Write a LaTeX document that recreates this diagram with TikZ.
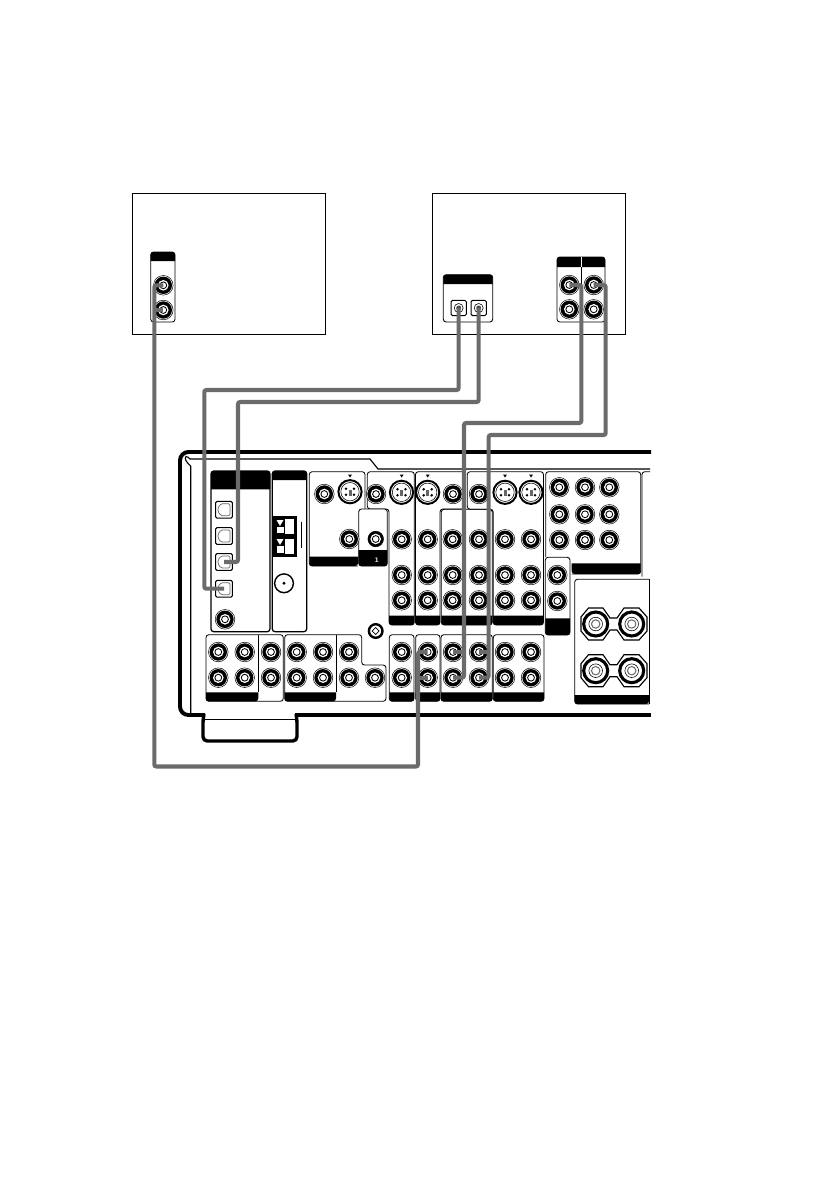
\documentclass[tikz,border=0pt]{standalone}
\usepackage{amsmath}
\begin{document}
\begin{tikzpicture}
[x=0.025cm,y=-0.025cm,
 device/.style={draw,line width=0.8pt},
 panel/.style={draw,line width=0.6pt,rounded corners=2pt},
 bar/.style={fill=black},
 jack/.style={circle,draw,fill=white,line width=0.35pt,inner sep=0pt,minimum size=0.49cm,
   path picture={\fill[black] (path picture bounding box.center) circle[radius=8.7];
                 \fill[white] (path picture bounding box.center) circle[radius=5.3];
                 \draw[line width=0.6pt] (path picture bounding box.center) circle[radius=3.4];}},
 svideo/.style={circle,draw,fill=white,line width=1.4pt,inner sep=0pt,minimum size=0.58cm,
   path picture={\draw[line width=0.4pt] (path picture bounding box.center) circle[radius=9.2];
                 \fill[black] ([shift={(-4,-3)}]path picture bounding box.center) circle[radius=1.4];
                 \fill[black] ([shift={( 4,-3)}]path picture bounding box.center) circle[radius=1.4];
                 \fill[black] ([shift={(-4, 3)}]path picture bounding box.center) circle[radius=1.4];
                 \fill[black] ([shift={( 4, 3)}]path picture bounding box.center) circle[radius=1.4];
                 \fill[black!60] ([shift={(-1.5,-2)}]path picture bounding box.center) rectangle ++(3,6);}},
 optical/.style={rectangle,draw,fill=white,line width=0.7pt,rounded corners=1pt,inner sep=0pt,minimum size=0.42cm,
   path picture={\draw[black!60,line width=0.5pt] ([shift={(-6,-2)}]path picture bounding box.center) -- ++(3,-4) -- ++(9,0) -- ++(0,12) -- ++(-9,0) -- ++(-3,-4) -- cycle;}},
 srcoptical/.style={rectangle,draw,fill=white,line width=0.7pt,rounded corners=1pt,inner sep=0pt,minimum size=0.38cm,
   path picture={\draw[line width=0.4pt] (path picture bounding box.center) circle[radius=4.5];
                 \fill[black!70] (path picture bounding box.center) circle[radius=2.5];}},
 speaker/.style={circle,draw,fill=white,line width=2.2pt,inner sep=0pt,minimum size=0.6cm,
   path picture={\draw[line width=0.4pt] (path picture bounding box.center) circle[radius=6.8];
                 \draw[black!60,line width=0.7pt] (path picture bounding box.center) circle[radius=4.2];}},
 coaxin/.style={circle,draw,fill=white,line width=1pt,inner sep=0pt,minimum size=0.47cm},
 screw/.style={circle,draw,fill=white,line width=1.7pt,inner sep=0pt,minimum size=0.34cm,
   path picture={\draw[line width=0.5pt] ([shift={(-3.5,0)}]path picture bounding box.center) -- ++(3.5,-3.5) -- ++(3.5,3.5) -- ++(-3.5,3.5) -- cycle;}},
 cable/.style={draw=black!58,line width=2.9pt,rounded corners=1.5pt}]
\useasboundingbox (0,0) rectangle (840,1190);
% outside devices
\draw[device] (132.5,193.7) rectangle (325.7,334.3);
\draw[device] (432.3,193.7) rectangle (625.7,334.3);
\draw[panel] (150.7,252) rectangle (175,322);
\fill[bar] (150.7,261) [rounded corners=2pt] -- (150.7,252) -- (175,252) [sharp corners] -- (175,261) -- cycle;
\draw[panel] (443.3,274.7) rectangle (492.7,322);
\fill[bar] (443.3,284) [rounded corners=2pt] -- (443.3,274.7) -- (492.7,274.7) [sharp corners] -- (492.7,284) -- cycle;
\draw[panel] (557,257) rectangle (605,322);
\fill[bar] (557,267) [rounded corners=2pt] -- (557,257) -- (605,257) [sharp corners] -- (605,267) -- cycle;
\draw[line width=0.6pt] (581.3,267) -- (581.3,322);
\draw[white,line width=0.6pt] (581.3,257) -- (581.3,267);
% chassis
\draw[line width=2.8pt,rounded corners=6pt] (651,452) -- (180,452) -- (180,715) -- (205,715);
\draw[line width=2.8pt] (651,715) -- (295,715);
\draw[line width=2.4pt,rounded corners=3pt] (204,714) -- (203,719) -- (203,741) -- (297,741) -- (297,719) -- (296,714);
\draw[line width=0.7pt] (205,719.3) -- (296,719.3);
\draw[line width=0.8pt] (190.7,715) -- (190.7,466) .. controls (186,462) and (184,458) .. (186,456.5)
  .. controls (187,456) and (189,458) .. (190,459) -- (370,459) -- (378,469) -- (650,469);
% upper panels
\draw[panel,line width=0.9pt] (211,471) rectangle (270,631.7);
\fill[bar] (211,489.3) [rounded corners=2pt] -- (211,471) -- (270,471) [sharp corners] -- (270,489.3) -- cycle;
\draw[panel,line width=0.9pt] (272.3,471) rectangle (306.7,631.7);
\fill[bar] (272.3,480) [rounded corners=2pt] -- (272.3,471) -- (306.7,471) [sharp corners] -- (306.7,480) -- cycle;
\draw[panel] (358,566) -- (309.3,566) -- (309.3,471.7) -- (365,471.7) -- (365,509);
\fill[bar] (309.3,556.7) [rounded corners=2pt] -- (309.3,566) -- (358,566) [sharp corners] -- (358,556.7) -- cycle;
\draw[panel] (389,625) -- (389,509) -- (367.3,509) -- (367.3,471.7) -- (414.3,471.7) -- (414.3,625) -- cycle;
\fill[bar] (389,615.7) [rounded corners=2pt] -- (389,625) -- (414.3,625) [sharp corners] -- (414.3,615.7) -- cycle;
\draw[panel,fill=white] (358.7,566) rectangle (387.3,509);
\fill[bar] (358.7,550) [rounded corners=2pt] -- (358.7,566) -- (387.3,566) [sharp corners] -- (387.3,550) -- cycle;
\node[white,font=\fontsize{5}{5}\selectfont\bfseries,inner sep=0pt] (rank) at (376.7,560) {1};
\draw[panel] (415.5,625) -- (415.5,471.7) -- (465,471.7) -- (465,509) -- (440,509) -- (440,625) -- cycle;
\fill[bar] (415.5,615.7) [rounded corners=2pt] -- (415.5,625) -- (440,625) [sharp corners] -- (440,615.7) -- cycle;
\draw[panel] (441.3,509.3) rectangle (492.3,625);
\fill[bar] (441.3,615.7) [rounded corners=2pt] -- (441.3,625) -- (492.3,625) [sharp corners] -- (492.3,615.7) -- cycle;
\draw[panel] (493.2,625) -- (493.2,509.3) -- (467.3,509.3) -- (467.3,471.7) -- (543.5,471.7) -- (543.5,625) -- cycle;
\fill[bar] (493.2,615.7) [rounded corners=2pt] -- (493.2,625) -- (543.5,625) [sharp corners] -- (543.5,615.7) -- cycle;
\draw[panel] (545.7,557) -- (545.7,471.7) -- (640.7,471.7) -- (640.7,574) -- (571.7,574);
\fill[bar] (571.7,563.3) [rounded corners=2pt] -- (571.7,574) -- (640.7,574) [sharp corners] -- (640.7,563.3) -- cycle;
\draw[panel] (545.3,557.3) rectangle (570,635);
\fill[bar] (545.3,618.3) [rounded corners=2pt] -- (545.3,635) -- (570,635) [sharp corners] -- (570,618.3) -- cycle;
\draw[panel] (642,576.5) -- (642,471.7) -- (650,471.7);
\draw[panel] (649,579.3) -- (574.7,579.3) -- (574.7,704) -- (649,704);
\draw[line width=0.6pt] (649,579.3) -- (649,704);
\fill[bar] (574.7,695) [rounded corners=2pt] -- (574.7,704) -- (649,704) [sharp corners] -- (649,695) -- cycle;
% lower panels
\draw[panel] (206,634.7) rectangle (283.3,701.3);
\fill[bar] (206,692.3) [rounded corners=2pt] -- (206,701.3) -- (258.3,701.3) [sharp corners] -- (258.3,692.3) -- cycle;
\draw[line width=0.6pt] (258.3,634.7) -- (258.3,692.3);
\draw[panel] (284.7,701.3) -- (284.7,634.7) -- (361.7,634.7) -- (361.7,665) -- (386,665) -- (386,701.3) -- cycle;
\fill[bar] (284.7,692.3) [rounded corners=2pt] -- (284.7,701.3) -- (336,701.3) [sharp corners] -- (336,692.3) -- cycle;
\draw[line width=0.6pt] (336,634.7) -- (336,692.3);
\draw[panel] (389.3,634.7) rectangle (414,701.3);
\fill[bar] (389.3,692.3) [rounded corners=2pt] -- (389.3,701.3) -- (414,701.3) [sharp corners] -- (414,692.3) -- cycle;
\draw[panel] (415.7,634.7) rectangle (440,701.3);
\fill[bar] (415.7,692.3) [rounded corners=2pt] -- (415.7,701.3) -- (440,701.3) [sharp corners] -- (440,692.3) -- cycle;
\draw[panel] (441,634.7) rectangle (492.3,701.3);
\fill[bar] (441,692.3) [rounded corners=2pt] -- (441,701.3) -- (492.3,701.3) [sharp corners] -- (492.3,692.3) -- cycle;
\draw[panel] (493.3,634.7) rectangle (544,701.3);
\fill[bar] (493.3,692.3) [rounded corners=2pt] -- (493.3,701.3) -- (544,701.3) [sharp corners] -- (544,692.3) -- cycle;
% antenna block
\draw[line width=1.2pt,fill=black] (274.3,516.7) rectangle (296,556);
\fill[white] (285,519) rectangle (294,534);
\fill[white] (285,539) rectangle (294,554);
\fill[white] (276.5,520) -- (283.5,520) -- (280,526) -- cycle;
\fill[white] (276.5,539) -- (283.5,539) -- (280,545) -- cycle;
\fill[white] (276.5,527) rectangle (283.5,533);
\fill[white] (276.5,546) rectangle (283.5,553);
\draw[line width=0.6pt] (301.3,521.7) -- (301.3,548);
% s-video markers
\fill (348,474.5) -- (352,474.5) -- (350,477.5) -- cycle;
\fill (399.7,474.5) -- (403.7,474.5) -- (401.7,477.5) -- cycle;
\fill (425.7,474.5) -- (429.7,474.5) -- (427.7,477.5) -- cycle;
\fill (503,474.5) -- (507,474.5) -- (505,477.5) -- cycle;
\fill (529,474.5) -- (533,474.5) -- (531,477.5) -- cycle;
% speaker outlines
\foreach \y in {624,670.7}
  \draw[line width=0.8pt,fill=white] (581,\y-7) -- (588.5,\y-16) -- (603,\y-16) -- (610,\y-6) -- (617,\y-6) -- (624,\y-16) -- (639,\y-16)
    -- (647,\y-7) -- (647,\y+7) -- (639,\y+16) -- (624,\y+16) -- (617,\y+6) -- (610,\y+6) -- (603,\y+16) -- (588.5,\y+16) -- (581,\y+7) -- cycle;
% source jacks
\node[jack] (recA) at (163.3,285.3) {};
\node[jack] (recB) at (163.3,310)   {};
\node[srcoptical] (dvdoptA) at (458.7,308) {};
\node[srcoptical] (dvdoptB) at (478.7,308) {};
\node[jack] (dvdA) at (569.3,285)   {};
\node[jack] (dvdB) at (593.7,285)   {};
\node[jack] (dvdC) at (569.3,309.3) {};
\node[jack] (dvdD) at (593.7,309.3) {};
% digital inputs
\node[optical] (optA) at (224,509.7) {};
\node[optical] (optB) at (224,536)   {};
\node[optical] (optC) at (224,562)   {};
\node[optical] (optD) at (224,588.7) {};
\node[jack] (coax) at (225,619.3) {};
\node[coaxin] (ant) at (284,583.3) {};
\fill (ant.center) circle[radius=1.6];
\node[screw] (gnd) at (375.7,631) {};
% upper row
\node[jack]   (u1)  at (324.3,494)   {};
\node[svideo] (s1)  at (350,491.7)   {};
\node[jack]   (u2)  at (376,494)     {};
\node[svideo] (s2)  at (401.5,492.3) {};
\node[svideo] (s3)  at (427.7,492.3) {};
\node[jack]   (u3)  at (453,494)     {};
\node[jack]   (u4)  at (479,494)     {};
\node[svideo] (s4)  at (505,492.3)   {};
\node[svideo] (s5)  at (531,492.3)   {};
\node[jack]   (v1)  at (349.3,539)   {};
\node[jack,minimum size=0.39cm] (v2) at (375.7,539) {};
\node[jack]   (v3)  at (401.7,539.3) {};
\node[jack]   (v4)  at (427.7,539.3) {};
\node[jack]   (v5)  at (452.7,539.3) {};
\node[jack]   (v6)  at (479,539.3)   {};
\node[jack]   (v7)  at (505,539.3)   {};
\node[jack]   (v8)  at (531,539.3)   {};
\node[jack]   (w1)  at (401.7,575)   {};
\node[jack]   (w2)  at (427.7,575)   {};
\node[jack]   (w3)  at (452.7,575)   {};
\node[jack]   (w4)  at (479,575)     {};
\node[jack]   (w5)  at (505,575)     {};
\node[jack]   (w6)  at (531,575)     {};
\node[jack]   (x1)  at (401.7,600.3) {};
\node[jack]   (x2)  at (427.7,600.3) {};
\node[jack]   (x3)  at (452.7,600.3) {};
\node[jack]   (x4)  at (479,600.3)   {};
\node[jack]   (x5)  at (505,600.3)   {};
\node[jack]   (x6)  at (531,600.3)   {};
% right block
\node[jack] (m1) at (559.3,487.3) {};
\node[jack] (m2) at (585,487.3)   {};
\node[jack] (m3) at (609.3,487.3) {};
\node[jack] (m4) at (559.3,514.3) {};
\node[jack] (m5) at (585,514.3)   {};
\node[jack] (m6) at (609.3,514.3) {};
\node[jack] (m7) at (559.3,540)   {};
\node[jack] (m8) at (585,540)     {};
\node[jack] (m9) at (609.3,540)   {};
\node[jack] (n1) at (557.3,575)   {};
\node[jack] (n2) at (557.3,601)   {};
\node[speaker] (spkA) at (595.7,624)   {};
\node[speaker] (spkB) at (631.7,624)   {};
\node[speaker] (spkC) at (595.7,670.7) {};
\node[speaker] (spkD) at (631.7,670.7) {};
% lower row
\node[jack] (p1)  at (218.3,652)   {};
\node[jack] (p2)  at (244.7,652)   {};
\node[jack] (p3)  at (271,652)     {};
\node[jack] (p4)  at (296.7,652)   {};
\node[jack] (p5)  at (323,652)     {};
\node[jack] (p6)  at (349,652)     {};
\node[jack] (p7)  at (401.7,652)   {};
\node[jack] (tapeA) at (427.7,652) {};
\node[jack] (dvA) at (453,652)     {};
\node[jack] (dvB) at (479,652)     {};
\node[jack] (p8)  at (505,652)     {};
\node[jack] (p9)  at (531,652)     {};
\node[jack] (q1)  at (218.3,677.7) {};
\node[jack] (q2)  at (244.7,677.7) {};
\node[jack] (q3)  at (271,677.7)   {};
\node[jack] (q4)  at (296.7,677.7) {};
\node[jack] (q5)  at (323,677.7)   {};
\node[jack] (q6)  at (349,677.7)   {};
\node[jack] (q7)  at (375,677.7)   {};
\node[jack] (q8)  at (401.7,677.7) {};
\node[jack] (tapeB) at (427.7,677.7) {};
\node[jack] (dvC) at (453,677.7)   {};
\node[jack] (dvD) at (479,677.7)   {};
\node[jack] (q9)  at (505,677.7)   {};
\node[jack] (q10) at (531,677.7)   {};
% cables
\coordinate (bendA) at (204.3,390);
\coordinate (bendB) at (238,402);
\coordinate (bendC) at (581.3,423);
\coordinate (bendD) at (464,423);
\coordinate (bendE) at (605.7,435);
\coordinate (bendF) at (488.7,435);
\coordinate (bendG) at (154.3,766.5);
\coordinate (bendH) at (418,766.5);
\draw[cable] (dvdoptA.center) |- (bendA) |- (optD.center);
\draw[cable] (dvdoptB.center) |- (bendB) |- (optC.center);
\draw[cable] (dvdA.center) -| (bendC) -- (bendD) |- (dvC.center);
\draw[cable] (dvA.center) -- (dvA.center -| bendD);
\draw[cable] (dvdB.center) -| (bendE) -- (bendF) |- (dvD.center);
\draw[cable] (dvB.center) -- (dvB.center -| bendF);
\draw[cable] (recA.center) -| (bendG) -- (bendH) |- (tapeA.center);
\draw[cable] (recB.center) -- (recB.center -| bendG);
\draw[cable] (tapeB.center) -- (tapeB.center -| bendH);
\end{tikzpicture}
\end{document}
